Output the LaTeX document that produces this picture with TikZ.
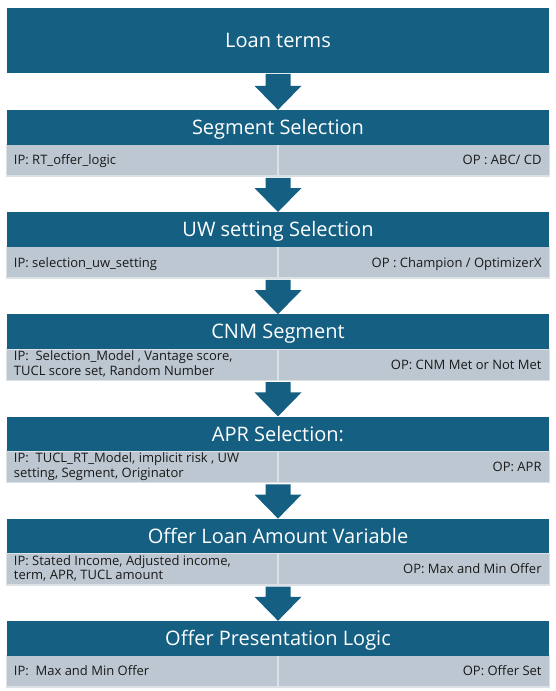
\documentclass[tikz,border=0pt]{standalone}
\usepackage{fontspec}
\setmainfont{Open Sans}
\usetikzlibrary{calc}
\definecolor{hdrc}{HTML}{156082}
\definecolor{rowc}{HTML}{BCC7D1}
\definecolor{rowline}{HTML}{DCE1E6}
\definecolor{txtc}{HTML}{1A1A1A}
\newcommand{\flowarrow}[2]{%
  \fill[hdrc] ($(#1.south)+(-12.5,1)$) -- ($(#2.north)+(-12.5,-24)$) -- ($(#2.north)+(-23.5,-24)$) -- (#2.north) -- ($(#2.north)+(23.5,-24)$) -- ($(#2.north)+(12.5,-24)$) -- ($(#1.south)+(12.5,1)$) -- cycle;}
\begin{document}
\begin{tikzpicture}[x=1pt,y=-1pt,
  hdr/.style={fill=hdrc,text=white,minimum width=542pt,minimum height=34.5pt,inner sep=0pt,
    font=\fontsize{20}{24}\selectfont,text height=14.3pt,text depth=0pt},
  rowbg/.style={fill=rowc,draw=rowline,line width=1.5pt,minimum width=543pt,minimum height=31.5pt,inner sep=0pt},
  divline/.style={draw=rowline,line width=1.5pt},
  lefttxt/.style={anchor=west,inner sep=0pt,text=txtc,font=\fontsize{13}{14.4}\selectfont,text height=9.3pt,text depth=0pt},
  righttxt/.style={lefttxt,anchor=east},
  lefttwo/.style={anchor=base west,inner sep=0pt,text=txtc,align=left,font=\fontsize{13}{14.4}\selectfont}
]
\useasboundingbox (0,0) rectangle (556,691);
\fill[white] (0,0) rectangle (556,691);

% rows
\node[rowbg] (r1) at (278,160.25) {};
\node[rowbg] (r2) at (278,262.45) {};
\node[rowbg] (r3) at (278,364.65) {};
\node[rowbg] (r4) at (278,466.85) {};
\node[rowbg] (r5) at (278,569.05) {};
\node[rowbg] (r6) at (278,671.25) {};
\foreach \r in {r1,r2,r3,r4,r5,r6} \draw[divline] (\r.north) -- (\r.south);

% headers
\node[hdr,minimum height=64.7pt] (lt) at (278,40.35) {Loan terms};
\node[hdr] (h1) at (278,127.25) {Segment Selection};
\node[hdr] (h2) at (278,229.45) {UW setting Selection};
\node[hdr] (h3) at (278,331.65) {CNM Segment};
\node[hdr] (h4) at (278,433.85) {APR Selection:};
\node[hdr] (h5) at (278,536.05) {Offer Loan Amount Variable};
\node[hdr] (h6) at (278,638.25) {Offer Presentation Logic};

% row texts
\node[lefttxt] (i1) at ($(r1.west)+(8,0)$) {IP: RT\_offer\_logic};
\node[righttxt] (o1) at ($(r1.east)+(-8.5,0)$) {OP : ABC/ CD};
\node[lefttxt] (i2) at ($(r2.west)+(8,0)$) {IP: selection\_uw\_setting};
\node[righttxt] (o2) at ($(r2.east)+(-8.5,0)$) {OP : Champion / OptimizerX};
\node[lefttwo] (i3) at ($(r3.west)+(8,10.4)$) {IP:\ \ Selection\_Model , Vantage score,\\TUCL score set, Random Number};
\node[righttxt] (o3) at ($(r3.east)+(-8.5,0)$) {OP: CNM Met or Not Met};
\node[lefttwo] (i4) at ($(r4.west)+(8,10.4)$) {IP:\ \ TUCL\_RT\_Model, implicit risk , UW\\setting, Segment, Originator};
\node[righttxt] (o4) at ($(r4.east)+(-8.5,0)$) {OP: APR};
\node[lefttwo] (i5) at ($(r5.west)+(8,10.4)$) {IP: Stated Income, Adjusted income,\\term, APR, TUCL amount};
\node[righttxt] (o5) at ($(r5.east)+(-8.5,0)$) {OP: Max and Min Offer};
\node[lefttxt] (i6) at ($(r6.west)+(8,0)$) {IP:\ \ Max and Min Offer};
\node[righttxt] (o6) at ($(r6.east)+(-8.5,0)$) {OP: Offer Set};

% arrows
\flowarrow{lt}{h1}
\flowarrow{r1}{h2}
\flowarrow{r2}{h3}
\flowarrow{r3}{h4}
\flowarrow{r4}{h5}
\flowarrow{r5}{h6}
\end{tikzpicture}
\end{document}
